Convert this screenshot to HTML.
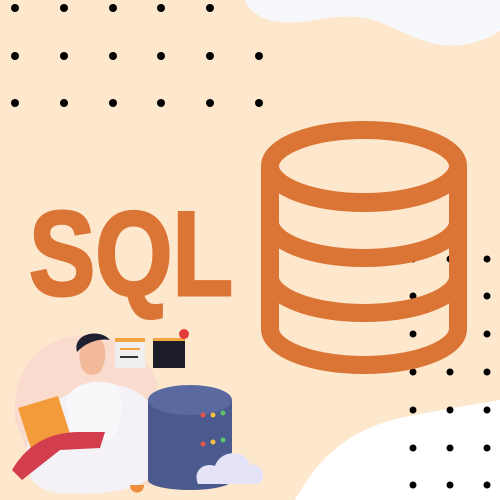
<!DOCTYPE html>
<html><head><meta charset="utf-8"><style>html,body{margin:0;padding:0;background:#FEE8CD;}svg{display:block}</style></head><body>
<svg width="500" height="500" viewBox="0 0 500 500" xmlns="http://www.w3.org/2000/svg">
<rect width="500" height="500" fill="#FEE8CD"/>
<path d="M245,0 C250,15 270,25 300,22 C330,18 350,12 380,22 C410,35 430,48 460,45 C480,43 495,35 500,30 L500,0 Z" fill="#F7F8FC"/>
<path d="M295,500 C320,455 350,430 400,418 C440,410 470,405 500,400 L500,500 Z" fill="#FFFFFF"/>
<g fill="#000">
<circle cx="15" cy="8" r="4"/><circle cx="64" cy="8" r="4"/><circle cx="113" cy="8" r="4"/><circle cx="161" cy="8" r="4"/><circle cx="210" cy="8" r="4"/>
<circle cx="15" cy="56" r="4"/><circle cx="64" cy="56" r="4"/><circle cx="113" cy="56" r="4"/><circle cx="161" cy="56" r="4"/><circle cx="210" cy="56" r="4"/><circle cx="259" cy="56" r="4"/>
<circle cx="15" cy="103" r="4"/><circle cx="64" cy="103" r="4"/><circle cx="113" cy="103" r="4"/><circle cx="161" cy="103" r="4"/><circle cx="210" cy="103" r="4"/><circle cx="259" cy="103" r="4"/>
<circle cx="413" cy="259" r="3.5"/><circle cx="450" cy="259" r="3.5"/><circle cx="487" cy="259" r="3.5"/>
<circle cx="413" cy="296" r="3.5"/><circle cx="487" cy="296" r="3.5"/>
<circle cx="413" cy="334" r="3.5"/><circle cx="487" cy="334" r="3.5"/>
<circle cx="413" cy="372" r="3.5"/><circle cx="450" cy="372" r="3.5"/><circle cx="487" cy="372" r="3.5"/>
<circle cx="413" cy="410" r="3.5"/><circle cx="450" cy="410" r="3.5"/><circle cx="487" cy="410" r="3.5"/>
<circle cx="413" cy="448" r="3.5"/><circle cx="450" cy="448" r="3.5"/><circle cx="487" cy="448" r="3.5"/>
<circle cx="413" cy="485" r="3.5"/><circle cx="450" cy="485" r="3.5"/><circle cx="487" cy="485" r="3.5"/>
</g>
<g fill="none" stroke="#DA7535" stroke-width="18">
<ellipse cx="364" cy="166" rx="94" ry="36"/>
<path d="M270,166 L270,329 A94,36 0 0 0 458,329 L458,166"/>
<path d="M270,167 A94,36 0 0 0 458,167"/>
<path d="M270,222 A94,36 0 0 0 458,222"/>
<path d="M270,277 A94,36 0 0 0 458,277"/>
</g>
<text x="29" y="295" font-family="Liberation Sans, sans-serif" font-weight="bold" font-size="120" fill="#DA7535" stroke="#DA7535" stroke-width="3" textLength="204" lengthAdjust="spacingAndGlyphs">SQL</text>
<!-- illustration -->
<path d="M15,420 C10,365 45,335 85,335 C125,335 150,360 158,385 L150,485 L40,485 Z" fill="#FADCCF"/>
<path d="M28,468 C20,420 60,385 110,385 C150,385 165,420 160,460 C155,492 100,496 60,493 C40,491 30,482 28,468 Z" fill="#F4F2F6"/>
<rect x="115" y="338" width="30" height="30" fill="#F0EEF0"/><rect x="115" y="338" width="30" height="4" fill="#F3A540"/>
<rect x="120" y="348" width="20" height="2" fill="#F3A540"/><rect x="120" y="356" width="18" height="2" fill="#333"/>
<rect x="153" y="338" width="32" height="30" fill="#1E1E2A"/><rect x="153" y="338" width="32" height="3" fill="#F3A540"/>
<circle cx="184" cy="334" r="5" fill="#E53B3B"/>
<path d="M80,362 C77,345 87,336 98,338 C107,342 108,360 100,372 C92,378 82,375 80,362 Z" fill="#F2B99A"/>
<path d="M77,352 C72,333 100,328 110,340 C100,338 86,342 77,352 Z" fill="#1E2030"/>
<path d="M66,400 C72,382 100,378 116,385 C126,395 122,430 110,440 L72,440 Z" fill="#F8F7F9"/>
<path d="M18,408 L58,396 L72,440 L32,452 Z" fill="#F39A3A"/>
<path d="M12,470 C25,448 45,432 80,432 L105,432 L100,448 L60,450 L22,480 Z" fill="#D23E4D"/>
<rect x="148" y="400" width="84" height="80" fill="#4B5A8E"/>
<ellipse cx="190" cy="400" rx="42" ry="15" fill="#5A6AA0"/>
<ellipse cx="190" cy="480" rx="42" ry="10" fill="#4B5A8E"/>
<circle cx="203" cy="415" r="2.5" fill="#E8534A"/><circle cx="213" cy="415" r="2.5" fill="#F5C143"/><circle cx="223" cy="413" r="2.5" fill="#5CC46B"/>
<circle cx="203" cy="444" r="2.5" fill="#E8534A"/><circle cx="213" cy="442" r="2.5" fill="#F5C143"/><circle cx="223" cy="440" r="2.5" fill="#5CC46B"/>
<path d="M198,484 C192,470 205,462 215,466 C220,450 245,448 250,465 C262,462 268,480 258,484 Z" fill="#E4E3F8"/>
<path d="M130,485 L144,485 C144,495 130,495 130,485 Z" fill="#EE8E3A"/>
</svg>
</body></html>
